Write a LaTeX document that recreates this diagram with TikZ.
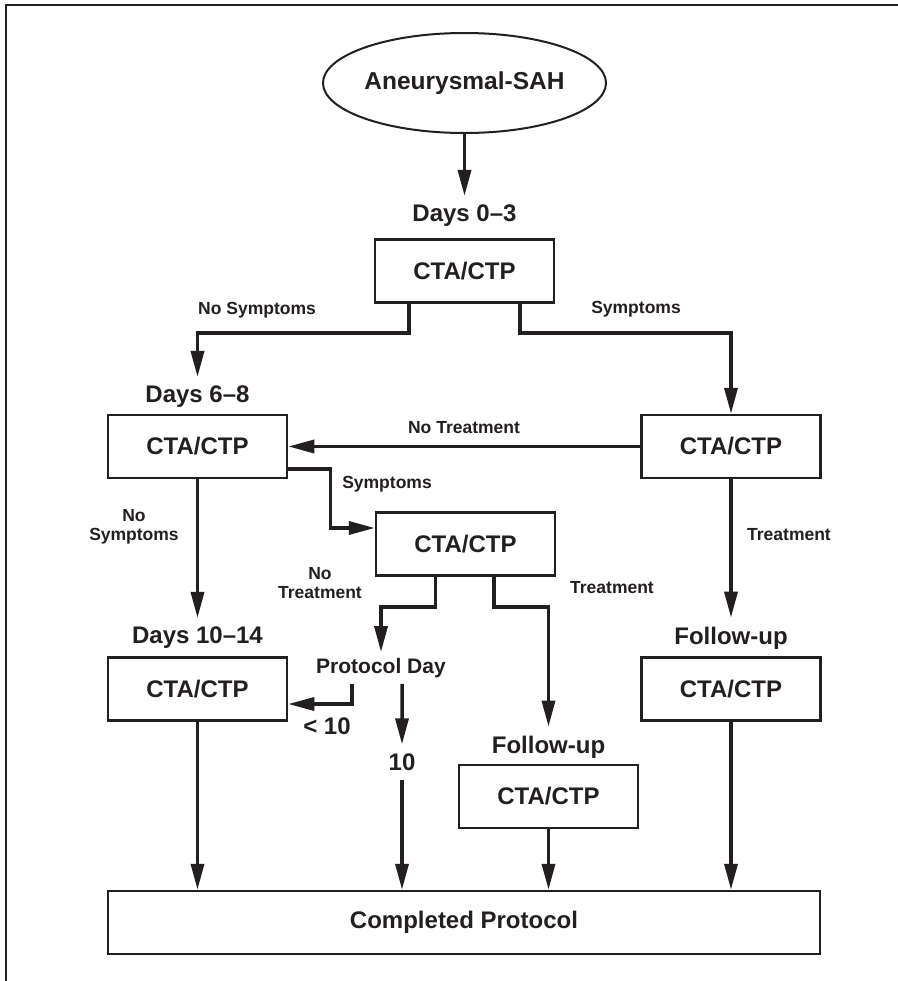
\documentclass[tikz,border=0pt]{standalone}
\usepackage{fontspec}
\setmainfont{Liberation Sans}
\usetikzlibrary{positioning,shapes.geometric,arrows.meta,calc}
\definecolor{ink}{HTML}{231F20}
\begin{document}
\begin{tikzpicture}[x=1bp,y=-1bp,ink,
  start node/.style={ellipse,draw,line width=2bp,minimum width=264bp,minimum height=100bp,inner sep=0pt,font=\fontsize{24.5bp}{28bp}\selectfont\bfseries},
  box node/.style={rectangle,draw,line width=2.5bp,minimum width=179bp,minimum height=63bp,inner sep=0pt,font=\fontsize{24bp}{28bp}\selectfont\bfseries},
  day node/.style={inner sep=9bp,font=\fontsize{24bp}{28bp}\selectfont\bfseries},
  note node/.style={inner sep=0pt,align=center,font=\fontsize{17.5bp}{19bp}\selectfont\bfseries},
  flow/.style={draw,line width=3.5bp,-{Triangle[length=26bp,width=13bp]}}
  ]
  \useasboundingbox (0,0) rectangle (898,981);
  \draw[line width=2bp] (898,5) -- (6,5) -- (6,981);

  \node[start node] (sah) at (464.5,83) {Aneurysmal-SAH};
  \node[day node] (d03) at (464.5,216) {Days 0--3};
  \node[box node] (b1) at (464.5,271) {CTA/CTP};
  \node[day node] (d68) at (197.5,397) {Days 6--8};
  \node[box node] (b2) at (197.5,446.5) {CTA/CTP};
  \node[box node] (b3) at (731,446.5) {CTA/CTP};
  \node[box node] (b4) at (465.5,544) {CTA/CTP};
  \node[day node] (d1014) at (197.5,638) {Days 10--14};
  \node[box node] (b5) at (197.5,689) {CTA/CTP};
  \node[day node,inner sep=6bp,font=\fontsize{21bp}{24bp}\selectfont\bfseries] (pday) at (381,668) {Protocol Day};
  \node[day node] (fu1) at (731,638) {Follow-up};
  \node[box node] (b6) at (731,689) {CTA/CTP};
  \node[day node] (fu2) at (548.5,747) {Follow-up};
  \node[box node] (b7) at (548.5,796.5) {CTA/CTP};
  \node[day node] (ten) at (402,762) {10};
  \node[day node,inner sep=0pt] (lt) at (327,726) {< 10};
  \node[box node,minimum width=712bp] (done) at (464,922.5) {Completed Protocol};

  \node[note node] (ns1) at (257,310) {No Symptoms};
  \node[note node] (s1) at (636,309) {Symptoms};
  \node[note node] (nt1) at (464,428) {No Treatment};
  \node[note node] (s2) at (387,484) {Symptoms};
  \node[note node] (ns2) at (134,527) {No\\Symptoms};
  \node[note node] (t1) at (789,535) {Treatment};
  \node[note node] (nt2) at (320,583) {No\\Treatment};
  \node[note node] (t2) at (612,588) {Treatment};

  \draw[flow] (sah) -- (d03);
  \draw[flow] ([xshift=-55.5bp]b1.south) -- ++(0,29) -| (d68);
  \draw[flow] ([xshift=55.5bp]b1.south) -- ++(0,29) -| (b3);
  \draw[flow] (b3) -- (b2);
  \draw[flow] ([yshift=-22.5bp]b2.east) -- ++(42,0) |- ([yshift=16bp]b4.west);
  \draw[flow] (b2) -- (d1014);
  \draw[flow] (b3) -- (fu1);
  \draw[flow] ([xshift=-30bp]b4.south) -- ++(0,30) -| (pday);
  \draw[flow] ([xshift=28.5bp]b4.south) -- ++(0,30) -| (fu2);
  \draw[flow] ([xshift=-29bp]pday.south) -- ++(0,20) |- ([yshift=-15bp]b5.east);
  \draw[flow] ([xshift=21bp]pday.south) -- (ten);
  \draw[flow] (ten) -- (ten |- done.north);
  \draw[flow] (b5) -- (b5 |- done.north);
  \draw[flow] (b7) -- (b7 |- done.north);
  \draw[flow] (b6) -- (b6 |- done.north);
\end{tikzpicture}
\end{document}
